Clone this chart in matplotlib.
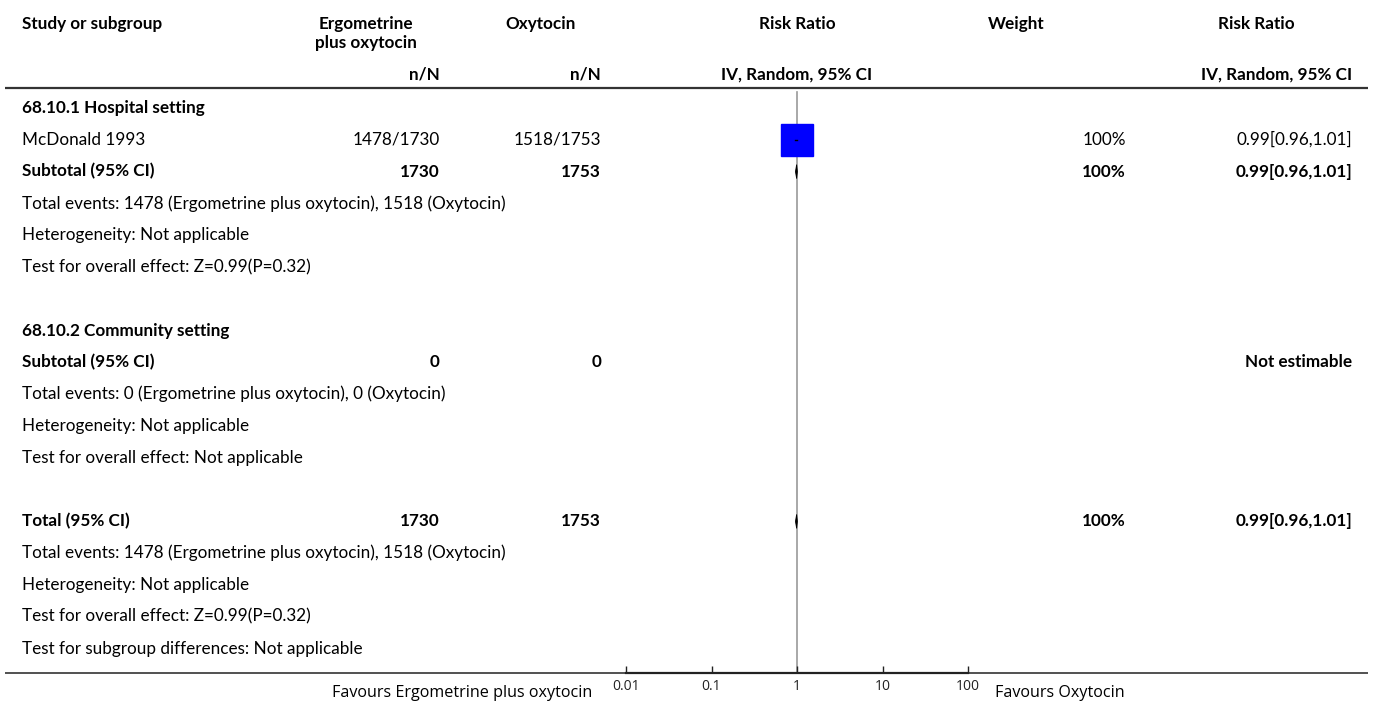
import matplotlib
matplotlib.use("Agg")
import matplotlib.pyplot as plt
from matplotlib.patches import Polygon

plt.rcParams['font.family'] = ['Lato', 'DejaVu Sans']

# ---------------- data ----------------
exp_label = "Ergometrine plus oxytocin"
ctl_label = "Oxytocin"
subgroups = ["68.10.1 Hospital setting", "68.10.2 Community setting"]
study_names = ["McDonald 1993"]
study_group = [0]
exp_events = [1478]
exp_total = [1730]
ctl_events = [1518]
ctl_total = [1753]
study_rr = [0.99]
study_lo = [0.96]
study_hi = [1.01]
study_weight = [100]

sub_exp_N = [1730, 0]
sub_ctl_N = [1753, 0]
sub_exp_ev = [1478, 0]
sub_ctl_ev = [1518, 0]
sub_rr = [0.99, None]
sub_lo = [0.96, None]
sub_hi = [1.01, None]
sub_weight = [100, None]
sub_effect = ["Z=0.99(P=0.32)", "Not applicable"]

tot_exp_N = 1730
tot_ctl_N = 1753
tot_exp_ev = 1478
tot_ctl_ev = 1518
tot_rr = 0.99
tot_lo = 0.96
tot_hi = 1.01
tot_weight = 100
tot_effect = "Z=0.99(P=0.32)"

ticks = [0.01, 0.1, 1, 10, 100]
tick_labels = ["0.01", "0.1", "1", "10", "100"]

# ---------------- layout ----------------
W, H = 1373, 701
fig = plt.figure(figsize=(W / 100, H / 100), dpi=100)
base = fig.add_axes([0, 0, 1, 1])
base.set_xlim(0, W)
base.set_ylim(H, 0)
base.axis('off')

FS = 12.3
x_name = 22
x_exp = 440
x_ctl = 601
x_rr = 797
x_w = 1126
x_rrtxt = 1352

# header
base.text(x_name, 24, "Study or subgroup", fontsize=FS, fontweight='bold', va='center', ha='left')
base.text(366, 24, "Ergometrine", fontsize=FS, fontweight='bold', va='center', ha='center')
base.text(366, 43, "plus oxytocin", fontsize=FS, fontweight='bold', va='center', ha='center')
base.text(541, 24, ctl_label, fontsize=FS, fontweight='bold', va='center', ha='center')
base.text(x_rr, 24, "Risk Ratio", fontsize=FS, fontweight='bold', va='center', ha='center')
base.text(1016, 24, "Weight", fontsize=FS, fontweight='bold', va='center', ha='center')
base.text(1256, 24, "Risk Ratio", fontsize=FS, fontweight='bold', va='center', ha='center')
base.text(x_exp, 75, "n/N", fontsize=FS, fontweight='bold', va='center', ha='right')
base.text(x_ctl, 75, "n/N", fontsize=FS, fontweight='bold', va='center', ha='right')
base.text(x_rr, 75, "IV, Random, 95% CI", fontsize=FS, fontweight='bold', va='center', ha='center')
base.text(x_rrtxt, 75, "IV, Random, 95% CI", fontsize=FS, fontweight='bold', va='center', ha='right')
base.plot([5, 1368], [88, 88], color='#333333', lw=1.6, solid_capstyle='butt')
base.plot([5, 1368], [673, 673], color='#333333', lw=1.2, solid_capstyle='butt')

# forest axes
y_top, y_bot = 88, 673
x0, x1 = 626, 968
fax = fig.add_axes([x0 / W, (H - y_bot) / H, (x1 - x0) / W, (y_bot - y_top) / H])
fax.patch.set_alpha(0)
fax.set_xscale('log')
fax.set_xlim(ticks[0], ticks[-1])
fax.set_ylim(y_bot, y_top)
for s in ['top', 'left', 'right']:
    fax.spines[s].set_visible(False)
fax.spines['bottom'].set_linewidth(1.6)
fax.spines['bottom'].set_color('#222222')
fax.set_yticks([])
fax.set_xticks(ticks)
fax.set_xticklabels(tick_labels, fontfamily='Open Sans')
fax.minorticks_off()
fax.tick_params(axis='x', direction='in', length=5, width=1, labelsize=10, pad=4, colors='#222222')
fax.axvline(1, ymin=0, ymax=(y_bot - 92) / (y_bot - y_top), color='#999999', lw=1.2, zorder=1)

def fmt_ci(r, lo, hi):
    return f"{r:.2f}[{lo:.2f},{hi:.2f}]"

def diamond(y, r, lo, hi, h=7):
    fax.add_patch(Polygon([(lo, y), (r, y - h), (hi, y), (r, y + h)], closed=True,
                          facecolor='black', edgecolor='black', lw=0.6, zorder=3))

row_h = 31.8
def ry(k):
    return 108 + row_h * k

k = 0
for g, gname in enumerate(subgroups):
    base.text(x_name, ry(k), gname, fontsize=FS, fontweight='bold', va='center')
    k += 1
    for i, nm in enumerate(study_names):
        if study_group[i] != g:
            continue
        y = ry(k)
        base.text(x_name, y, nm, fontsize=FS, va='center')
        base.text(x_exp, y, f"{exp_events[i]}/{exp_total[i]}", fontsize=FS, va='center', ha='right')
        base.text(x_ctl, y, f"{ctl_events[i]}/{ctl_total[i]}", fontsize=FS, va='center', ha='right')
        base.text(x_w, y, f"{study_weight[i]}%", fontsize=FS, va='center', ha='right')
        base.text(x_rrtxt, y, fmt_ci(study_rr[i], study_lo[i], study_hi[i]), fontsize=FS, va='center', ha='right')
        fax.plot([study_rr[i]], [y], marker='s', markersize=22.5, color='#0000ff', mec='#0000ff', zorder=2)
        fax.plot([study_lo[i], study_hi[i]], [y, y], color='black', lw=1, zorder=3)
        k += 1
    y = ry(k)
    base.text(x_name, y, "Subtotal (95% CI)", fontsize=FS, fontweight='bold', va='center')
    base.text(x_exp, y, f"{sub_exp_N[g]}", fontsize=FS, fontweight='bold', va='center', ha='right')
    base.text(x_ctl, y, f"{sub_ctl_N[g]}", fontsize=FS, fontweight='bold', va='center', ha='right')
    if sub_rr[g] is not None:
        base.text(x_w, y, f"{sub_weight[g]}%", fontsize=FS, fontweight='bold', va='center', ha='right')
        base.text(x_rrtxt, y, fmt_ci(sub_rr[g], sub_lo[g], sub_hi[g]), fontsize=FS, fontweight='bold', va='center', ha='right')
        diamond(y, sub_rr[g], sub_lo[g], sub_hi[g])
    else:
        base.text(x_rrtxt, y, "Not estimable", fontsize=FS, fontweight='bold', va='center', ha='right')
    k += 1
    base.text(x_name, ry(k), f"Total events: {sub_exp_ev[g]} ({exp_label}), {sub_ctl_ev[g]} ({ctl_label})", fontsize=FS, va='center')
    k += 1
    base.text(x_name, ry(k), "Heterogeneity: Not applicable", fontsize=FS, va='center')
    k += 1
    base.text(x_name, ry(k), f"Test for overall effect: {sub_effect[g]}", fontsize=FS, va='center')
    k += 2

y = ry(k)
base.text(x_name, y, "Total (95% CI)", fontsize=FS, fontweight='bold', va='center')
base.text(x_exp, y, f"{tot_exp_N}", fontsize=FS, fontweight='bold', va='center', ha='right')
base.text(x_ctl, y, f"{tot_ctl_N}", fontsize=FS, fontweight='bold', va='center', ha='right')
base.text(x_w, y, f"{tot_weight}%", fontsize=FS, fontweight='bold', va='center', ha='right')
base.text(x_rrtxt, y, fmt_ci(tot_rr, tot_lo, tot_hi), fontsize=FS, fontweight='bold', va='center', ha='right')
diamond(y, tot_rr, tot_lo, tot_hi)
k += 1
base.text(x_name, ry(k), f"Total events: {tot_exp_ev} ({exp_label}), {tot_ctl_ev} ({ctl_label})", fontsize=FS, va='center')
k += 1
base.text(x_name, ry(k), "Heterogeneity: Not applicable", fontsize=FS, va='center')
k += 1
base.text(x_name, ry(k), f"Test for overall effect: {tot_effect}", fontsize=FS, va='center')
k += 1
base.text(x_name, ry(k), "Test for subgroup differences: Not applicable", fontsize=FS, va='center')

base.text(592, 693, f"Favours {exp_label}", fontsize=11.6, fontfamily='Open Sans', va='center', ha='right')
base.text(995, 693, f"Favours {ctl_label}", fontsize=11.6, fontfamily='Open Sans', va='center', ha='left')

fig.savefig("out.png", dpi=100)
